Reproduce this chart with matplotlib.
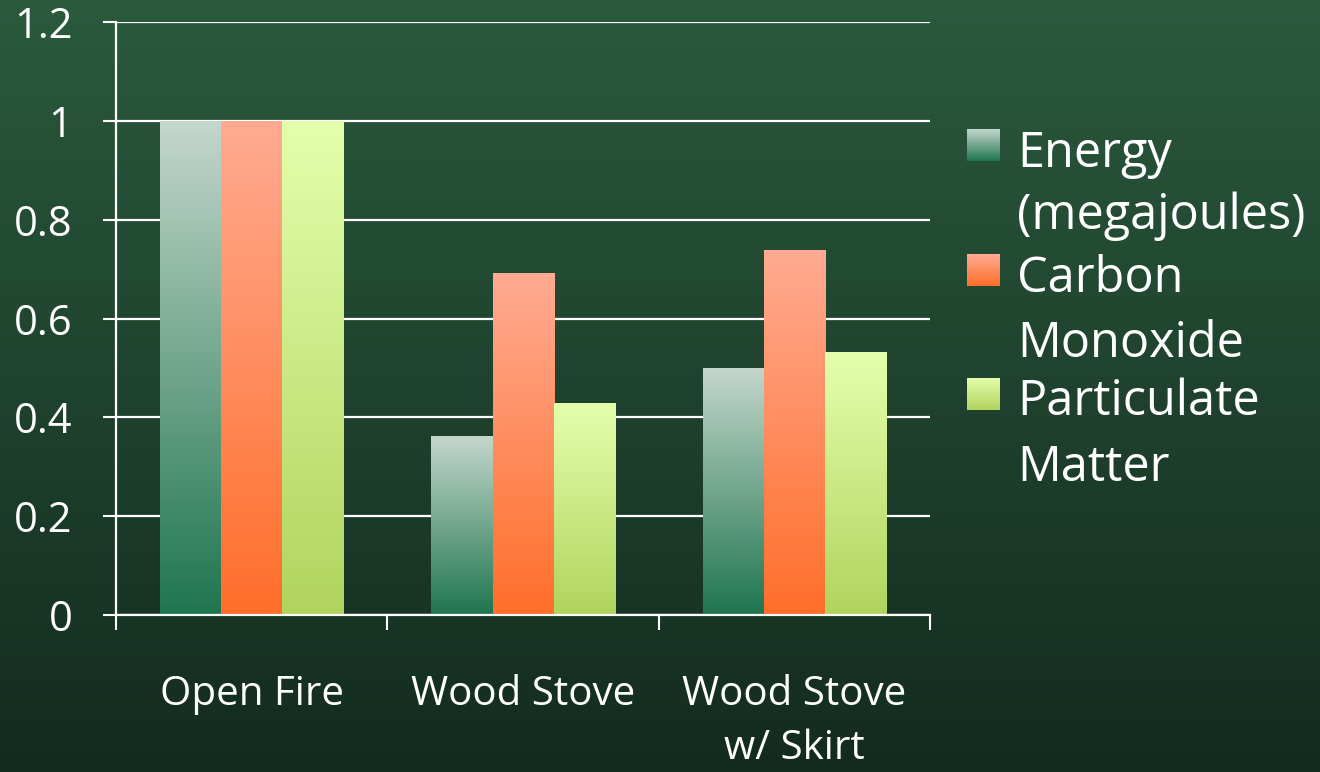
import numpy as np
import matplotlib
matplotlib.use("Agg")
import matplotlib.pyplot as plt
from matplotlib.colors import LinearSegmentedColormap

plt.rcParams["font.family"] = ["Open Sans", "DejaVu Sans"]

# ── Data ──────────────────────────────────────────────────────
categories = ["Open Fire", "Wood Stove", "Wood Stove\nw/ Skirt"]
series     = ["Energy\n(megajoules)", "Carbon\nMonoxide", "Particulate\nMatter"]
energy     = [1.0, 0.362, 0.50]
carbon     = [1.0, 0.692, 0.739]
particles  = [1.0, 0.429, 0.532]
values     = [energy, carbon, particles]
yticks     = [0, 0.2, 0.4, 0.6, 0.8, 1, 1.2]
ylabels    = ["0", "0.2", "0.4", "0.6", "0.8", "1", "1.2"]

# gradient (bottom colour, top colour) for each series
grads = [("#1f7550", "#c4d7cc"),
         ("#ff6e2a", "#ffab92"),
         ("#b0d45e", "#e4ffac")]

W, H = 1320, 772
fig = plt.figure(figsize=(W / 100, H / 100), dpi=100)

# ── Background gradient ───────────────────────────────────────
bg = fig.add_axes([0, 0, 1, 1], zorder=-10)
bg_cmap = LinearSegmentedColormap.from_list("bg", ["#132b1f", "#2b5a3d"])
bg.imshow(np.linspace(0, 1, 256).reshape(-1, 1), cmap=bg_cmap,
          aspect="auto", origin="lower", extent=[0, 1, 0, 1])
bg.axis("off")

ax = fig.add_axes([0.0879, 0.2034, 0.6167, 0.768])
ax.set_facecolor("none")

x = np.arange(len(categories))
width = 0.225
grad = np.linspace(0, 1, 256).reshape(-1, 1)

for i, (vals, (c0, c1)) in enumerate(zip(values, grads)):
    cmap = LinearSegmentedColormap.from_list(f"s{i}", [c0, c1])
    bars = ax.bar(x + (i - 1) * width, vals, width, color="none", zorder=3)
    for b in bars:
        im = ax.imshow(grad, cmap=cmap, aspect="auto", origin="lower",
                       extent=[b.get_x(), b.get_x() + b.get_width(), 0, b.get_height()],
                       zorder=3)
        im.set_clip_path(b)

ax.set_xlim(-0.5, 2.5)
ax.set_ylim(0, 1.2)
ax.set_yticks(yticks)
ax.set_yticklabels(ylabels)
ax.set_xticks(x)
ax.set_xticklabels(categories, linespacing=1.45)
ax.set_xticks([-0.5, 0.5, 1.5, 2.5], minor=True)

ax.tick_params(axis="x", which="major", length=0, pad=43, labelsize=29, colors="white")
ax.tick_params(axis="x", which="minor", length=11, width=1.5, color="white", direction="out")
ax.tick_params(axis="y", length=9.5, width=1.5, color="white", pad=22,
               labelsize=30, labelcolor="white")

ax.grid(True, axis="y", color="white", linewidth=1.6, zorder=1)
ax.set_axisbelow(True)
for s in ["top", "right"]:
    ax.spines[s].set_visible(False)
for s in ["left", "bottom"]:
    ax.spines[s].set_color("white")
    ax.spines[s].set_linewidth(1.6)
    ax.spines[s].set_zorder(4)

# ── Legend (drawn by hand to keep gradient swatches) ─────────
sw_bottom = [0.7915, 0.6295, 0.469]
baselines = [(167, 229), (292, 357), (415, 481)]
for (c0, c1), label, yy, lines_y in zip(grads, series, sw_bottom, baselines):
    cmap = LinearSegmentedColormap.from_list("lg", [c0, c1])
    sw = fig.add_axes([967 / W, yy, 33 / W, 32 / H])
    sw.imshow(grad, cmap=cmap, aspect="auto", origin="lower")
    sw.axis("off")
    for line, py in zip(label.split("\n"), lines_y):
        fig.text(1017 / W, 1 - py / H, line, color="white", fontsize=35,
                 va="baseline", ha="left")

fig.savefig("out.png", dpi=100)
